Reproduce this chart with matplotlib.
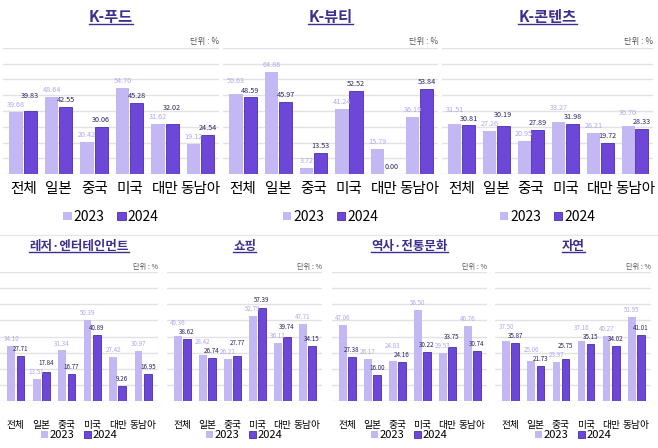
import matplotlib
matplotlib.use("Agg")
import matplotlib.pyplot as plt
import numpy as np
from matplotlib.patches import Patch
from matplotlib.lines import Line2D

plt.rcParams['font.family'] = ['Noto Sans CJK KR', 'DejaVu Sans']

countries = ['전체', '일본', '중국', '미국', '대만', '동남아']
years = ['2023', '2024']

food_2023 = [39.68, 48.64, 20.42, 54.70, 31.62, 19.12]
food_2024 = [39.83, 42.55, 30.06, 45.28, 32.02, 24.54]
beauty_2023 = [50.63, 64.86, 3.72, 41.24, 15.79, 36.19]
beauty_2024 = [48.59, 45.97, 13.53, 52.52, 0.00, 53.84]
content_2023 = [31.51, 27.26, 20.95, 33.27, 26.21, 30.70]
content_2024 = [30.81, 30.19, 27.89, 31.98, 19.72, 28.33]
leisure_2023 = [34.10, 13.51, 31.34, 50.39, 27.42, 30.97]
leisure_2024 = [27.71, 17.84, 16.77, 40.89, 9.26, 16.95]
shopping_2023 = [40.36, 28.42, 26.21, 52.79, 36.11, 47.71]
shopping_2024 = [38.62, 26.74, 27.77, 57.39, 39.74, 34.15]
history_2023 = [47.06, 26.17, 24.83, 56.50, 29.53, 46.76]
history_2024 = [27.38, 16.00, 24.16, 30.22, 33.75, 30.74]
nature_2023 = [37.50, 25.06, 23.97, 37.16, 40.27, 51.95]
nature_2024 = [35.87, 21.73, 25.75, 35.15, 34.02, 41.01]

C23 = '#c4b8f4'
C24 = '#6c47d8'
E24 = '#4a2fae'
L23 = '#b3a7ec'
L24 = '#2c2360'
TITLE_C = '#3d2f8e'

W, H = 658, 448
fig = plt.figure(figsize=(6.58, 4.48), dpi=100)


def px_axes(x0, x1, ytop, ybot):
    return fig.add_axes([x0 / W, 1 - ybot / H, (x1 - x0) / W, (ybot - ytop) / H])


# (title, 2023, 2024, box in px, big row?)
panels = [
    ('K-푸드', food_2023, food_2024, (3, 219, 48, 174), True),
    ('K-뷰티', beauty_2023, beauty_2024, (223, 438, 48, 174), True),
    ('K-콘텐츠', content_2023, content_2024, (442, 653, 48, 174), True),
    ('레저·엔터테인먼트', leisure_2023, leisure_2024, (0, 158, 272, 401), False),
    ('쇼핑', shopping_2023, shopping_2024, (167, 322, 272, 401), False),
    ('역사·전통문화', history_2023, history_2024, (332, 487, 272, 401), False),
    ('자연', nature_2023, nature_2024, (495, 651, 272, 401), False),
]

titles = []
for title, v23, v24, box, big in panels:
    ax = px_axes(*box)
    x = np.arange(len(countries))
    if big:
        w, off = 0.375, 0.2
        ax.set_xlim(-0.57, 5.52)
        tick_fs, tick_pad, lab_fs = 10.5, 6, 5.2
        title_fs, unit_fs, leg_fs = 11, 6, 10
        title_y, unit_y, leg_y = 1.246, 1.048, -0.341
    else:
        w, off = 0.3, 0.18
        ax.set_xlim(-0.62, 5.58)
        tick_fs, tick_pad, lab_fs = 7, 13.5, 4.5
        title_fs, unit_fs, leg_fs = 9, 5.2, 8
        title_y, unit_y, leg_y = 1.194, 1.039, -0.264

    ax.bar(x - off, v23, w, color=C23, zorder=2)
    ax.bar(x + off, v24, w, color=C24, edgecolor=E24, linewidth=0.6, zorder=2)
    ax.set_ylim(0, 80)
    ax.set_yticks(range(0, 81, 10))
    ax.yaxis.grid(True, color='#e2e2e2', lw=1)
    ax.set_axisbelow(True)
    ax.tick_params(axis='y', left=False, labelleft=False)
    ax.tick_params(axis='x', length=0, pad=tick_pad, labelsize=tick_fs)
    for s in ax.spines.values():
        s.set_visible(False)
    ax.set_xticks(x, countries)

    # value labels, pushed apart when the two bars are close
    ax_h_px = box[3] - box[2]
    pt_per_unit = ax_h_px / 80 * 72 / 100
    for i in range(len(countries)):
        a, b = v23[i], v24[i]
        oa, ob = 5.0, 5.0
        diff = abs(a - b) * pt_per_unit
        if diff < 6.5:
            if b >= a:
                ob += 6.5 - diff
            else:
                oa += 6.5 - diff
        ax.annotate(f'{a:.2f}', (x[i] - off, a), xytext=(0, oa), textcoords='offset points',
                    ha='center', va='center', fontsize=lab_fs, color=L23)
        ax.annotate(f'{b:.2f}', (x[i] + off, b), xytext=(0, ob), textcoords='offset points',
                    ha='center', va='center', fontsize=lab_fs, color=L24)

    t = ax.text(0.5, title_y, title, transform=ax.transAxes, ha='center', va='center',
                fontsize=title_fs, color=TITLE_C, fontweight='bold')
    titles.append(t)
    ax.text(1.0, unit_y, '단위 : %', transform=ax.transAxes, ha='right', va='center',
            fontsize=unit_fs, color='#555555')

    handles = [Patch(facecolor=C23, label=years[0]),
               Patch(facecolor=C24, edgecolor=E24, linewidth=0.6, label=years[1])]
    ax.legend(handles=handles, loc='center', bbox_to_anchor=(0.5, leg_y),
              bbox_transform=ax.transAxes, ncol=2, frameon=False, fontsize=leg_fs,
              handlelength=0.6, handleheight=0.6, handletextpad=0.15,
              columnspacing=0.9, borderpad=0)

fig.add_artist(Line2D([0, 1], [1 - 235 / H] * 2, transform=fig.transFigure,
                      color='#e6e6e6', lw=1))

fig.canvas.draw()
r = fig.canvas.get_renderer()
for t in titles:
    bb = t.get_window_extent(r)
    yline = bb.y0 + 1.0
    fig.add_artist(Line2D([bb.x0 / W, bb.x1 / W], [yline / H] * 2,
                          transform=fig.transFigure, color=TITLE_C, lw=1))

fig.savefig('out.png', dpi=100)
